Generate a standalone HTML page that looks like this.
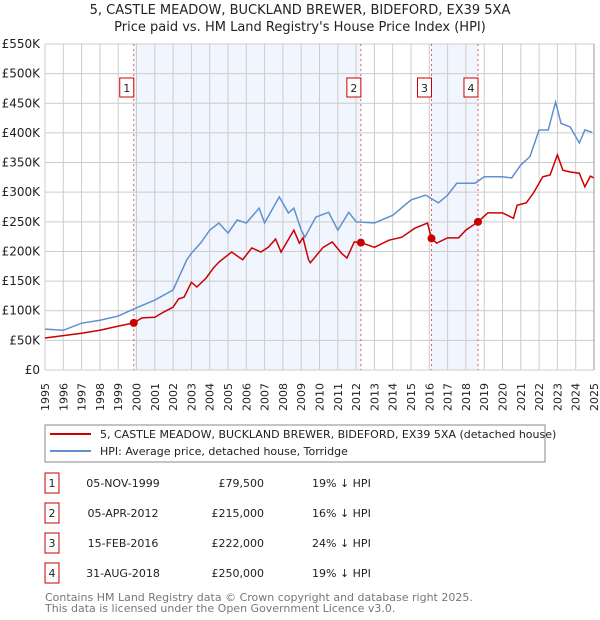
<!DOCTYPE html>
<html><head><meta charset="utf-8"><style>
body{margin:0;background:#fff;font-family:"DejaVu Sans","Liberation Sans",sans-serif;}
#wrap{position:relative;width:600px;height:620px;overflow:hidden;}
svg text{font-family:"DejaVu Sans","Liberation Sans",sans-serif;}
</style></head><body>
<div id="wrap">
<svg id="chart" width="600" height="620">
<text x="300" y="14" text-anchor="middle" font-size="13" fill="#222">5, CASTLE MEADOW, BUCKLAND BREWER, BIDEFORD, EX39 5XA</text>
<text x="300" y="31" text-anchor="middle" font-size="13" fill="#222">Price paid vs. HM Land Registry's House Price Index (HPI)</text>
<g id="grid"></g><g id="marks"></g><g id="axes"></g>
<rect x="45" y="425" width="500" height="37" fill="#fff" stroke="#888"/>
<line x1="50" y1="434" x2="91" y2="434" stroke="#cc0000" stroke-width="2"/>
<text x="100" y="438" font-size="11" fill="#222">5, CASTLE MEADOW, BUCKLAND BREWER, BIDEFORD, EX39 5XA (detached house)</text>
<line x1="50" y1="451" x2="91" y2="451" stroke="#6090d0" stroke-width="2"/>
<text x="100" y="455" font-size="11" fill="#222">HPI: Average price, detached house, Torridge</text>
<g id="table"></g>
<text x="45" y="601" font-size="11" fill="#777">Contains HM Land Registry data © Crown copyright and database right 2025.</text>
<text x="45" y="612" font-size="11" fill="#777">This data is licensed under the Open Government Licence v3.0.</text>
</svg>
</div>
<script>
const yTicks=[0,50,100,150,200,250,300,350,400,450,500,550];
const yTickLabels=["£0","£50K","£100K","£150K","£200K","£250K","£300K","£350K","£400K","£450K","£500K","£550K"];
const xYears=[1995,1996,1997,1998,1999,2000,2001,2002,2003,2004,2005,2006,2007,2008,2009,2010,2011,2012,2013,2014,2015,2016,2017,2018,2019,2020,2021,2022,2023,2024,2025];
const hpiT=[1995,1996,1997,1998,1999,2000,2001,2002,2002.75,2003,2003.5,2004,2004.5,2005,2005.5,2006,2006.7,2007,2007.8,2008.3,2008.6,2009,2009.2,2009.8,2010.5,2011,2011.6,2012,2013,2014,2015,2015.8,2016.5,2017,2017.5,2018.5,2019,2020,2020.5,2021,2021.5,2022,2022.5,2022.9,2023.2,2023.7,2024.2,2024.5,2024.9];
const hpiV=[69,67,79,84,91,105,118,135,186,197,214,236,248,231,253,248,273,248,292,265,273,236,224,258,266,236,266,250,248,261,287,295,282,295,315,315,326,326,324,346,360,405,405,452,416,410,383,405,401];
const priceT=[1995,1997,1998,1999,1999.85,2000.3,2001,2001.5,2002,2002.3,2002.6,2003,2003.3,2003.8,2004.2,2004.5,2005.2,2005.8,2006.3,2006.8,2007.2,2007.6,2007.9,2008.6,2008.9,2009.1,2009.4,2009.5,2010.2,2010.7,2011.2,2011.5,2011.9,2012.26,2013,2013.8,2014.5,2015.2,2015.9,2016.12,2016.4,2017,2017.6,2018,2018.66,2019.2,2020,2020.6,2020.8,2021.3,2021.7,2022.2,2022.6,2023,2023.3,2023.7,2024.2,2024.5,2024.8,2025];
const priceV=[54,62,67,74,79.5,88,89,98,106,120,123,148,140,155,172,182,199,186,206,199,207,221,199,236,214,223,186,181,207,216,197,189,216,215,207,219,224,239,248,222,214,223,223,236,250,265,265,256,278,282,299,326,329,363,337,334,332,309,327,324];
const saleLabels=["1","2","3","4"];
const saleT=[1999.85,2012.26,2016.12,2018.66];
const saleV=[79.5,215,222,250];
const saleDates=["05-NOV-1999","05-APR-2012","15-FEB-2016","31-AUG-2018"];
const salePrices=["£79,500","£215,000","£222,000","£250,000"];
const saleDiffs=["19% ↓ HPI","16% ↓ HPI","24% ↓ HPI","19% ↓ HPI"];

const L=45,R=594,T=44,B=370;
const xs=t=>L+(t-1995)/30*(R-L);
const ys=v=>B-v/550*(B-T);
const NS="http://www.w3.org/2000/svg";
function mk(tag,parent,attrs){const e=document.createElementNS(NS,tag);for(const k in attrs)e.setAttribute(k,attrs[k]);parent.appendChild(e);return e;}
const grid=document.getElementById('grid'),marks=document.getElementById('marks'),axes=document.getElementById('axes'),table=document.getElementById('table');
// shaded spans
for(const [a,b] of [[0,1],[2,3]]){
  const r=mk('rect',grid,{x:xs(saleT[a]),y:T,width:xs(saleT[b])-xs(saleT[a]),height:B-T,fill:'#eef3fd',opacity:0.8});
  
  
}
xYears.forEach(y=>{const l=mk('line',grid,{x1:xs(y),x2:xs(y),y1:T,y2:B,stroke:'#cccccc','stroke-width':1});
  
  
  const t=mk('text',axes,{transform:`translate(${xs(y)+4},${383}) rotate(-90)`,'text-anchor':'end','font-size':11,fill:'#222'});
  
  
  t.textContent=y;});
yTicks.forEach((v,i)=>{const l=mk('line',grid,{x1:L,x2:R,y1:ys(v),y2:ys(v),stroke:'#cccccc','stroke-width':1});
  
  
  const t=mk('text',axes,{x:L-5,y:ys(v)+4,'text-anchor':'end','font-size':12,fill:'#222'});
  
  
  t.textContent=yTickLabels[i];});
const rl=mk('line',axes,{x1:R,x2:R,y1:T,y2:B,stroke:'#999'});


saleT.forEach((t,i)=>{const l=mk('line',marks,{x1:xs(t),x2:xs(t),y1:T,y2:B,stroke:'#e06060','stroke-dasharray':'2,3','stroke-width':1});
  
  
  const bx=mk('rect',marks,{x:xs(t)-14,y:78,width:14,height:19,fill:'#fff',stroke:'#cc0000'});
  
  
  const tx=mk('text',marks,{x:xs(t)-7,y:92,'text-anchor':'middle','font-size':11,fill:'#222'});
  
  
  tx.textContent=saleLabels[i];});
const hp=mk('polyline',marks,{points:hpiT.map((t,i)=>xs(t)+','+ys(hpiV[i])).join(' '),fill:'none',stroke:'#6090d0','stroke-width':1.5});


const pp=mk('polyline',marks,{points:priceT.map((t,i)=>xs(t)+','+ys(priceV[i])).join(' '),fill:'none',stroke:'#cc0000','stroke-width':1.5});


saleT.forEach((t,i)=>{const c=mk('circle',marks,{cx:xs(t),cy:ys(saleV[i]),r:4,fill:'#cc0000'});
  
  });
saleT.forEach((t,i)=>{const y=483+i*30;
  const b=mk('rect',table,{x:45,y:y-10,width:14,height:20,fill:'#fff',stroke:'#cc0000'});
  
  
  const n=mk('text',table,{x:52,y:y+4,'text-anchor':'middle','font-size':11,fill:'#222'});
  
  
  n.textContent=saleLabels[i];
  const d=mk('text',table,{x:123,y:y+4,'text-anchor':'middle','font-size':11,fill:'#222'});
  
  
  d.textContent=saleDates[i];
  const p=mk('text',table,{x:264,y:y+4,'text-anchor':'end','font-size':11,fill:'#222'});
  
  
  p.textContent=salePrices[i];
  const h=mk('text',table,{x:312,y:y+4,'font-size':11,fill:'#222'});
  
  
  h.textContent=saleDiffs[i];});
</script>
</body></html>
